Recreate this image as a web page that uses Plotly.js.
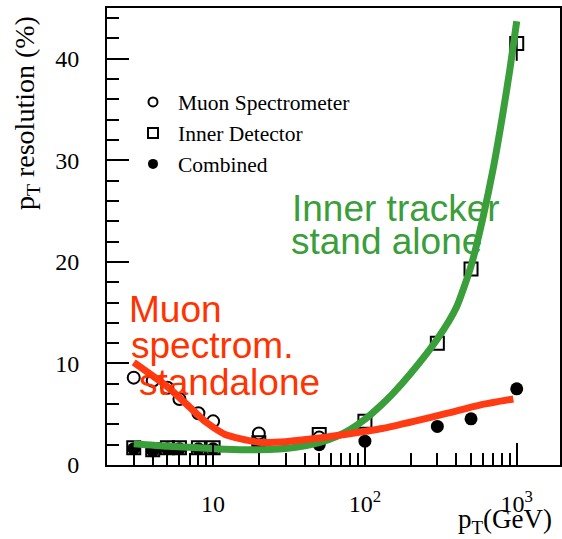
<!DOCTYPE html>
<html>
<head>
<meta charset="utf-8">
<script src="https://cdn.plot.ly/plotly-3.0.1.min.js"></script>
<style>html,body{margin:0;padding:0;background:#fff;}#chart{width:562px;height:539px;}</style>
</head>
<body>
<div id="chart"></div>
<script>
// ---- data ----
const ptMuon  = [3, 4, 5, 6, 8, 10, 20, 50];
const resMuon = [8.6, 8.3, 7.6, 6.5, 5.1, 4.3, 3.1, 2.7];

const ptID  = [3, 4, 5, 6, 8, 10, 20, 50, 100, 300, 500, 1000];
const resID = [1.7, 1.5, 1.7, 1.7, 1.7, 1.7, 2.2, 3.0, 4.3, 12.0, 19.3, 41.5];
const errID = [0, 0, 0, 0, 0, 0, 0, 0, 0, 0, 0, 1.7];

const ptComb  = [3, 4, 5, 6, 8, 10, 20, 50, 100, 300, 500, 1000];
const resComb = [1.6, 1.4, 1.6, 1.6, 1.6, 1.6, 1.9, 2.0, 2.35, 3.8, 4.55, 7.5];

const ptInnerFit  = [3, 5, 8, 12, 20, 35, 50, 65, 80, 100, 130, 150, 200, 300, 400, 500, 600, 700, 800, 900, 1000];
const resInnerFit = [2.1, 1.85, 1.7, 1.55, 1.5, 1.75, 2.2, 2.8, 3.5, 4.5, 6.0, 6.9, 9.0, 12.4, 15.5, 19.6, 24.4, 29.2, 34.1, 38.9, 43.7];

const ptMuonFit  = [3, 5, 7, 9, 12, 15, 20, 30, 50, 85, 130, 210, 350, 570, 950];
const resMuonFit = [10.1, 7.7, 5.7, 4.2, 3.0, 2.6, 2.25, 2.3, 2.65, 3.15, 3.6, 4.3, 5.1, 5.9, 6.5];

const xTickVals = [10, 100, 1000];
const xTickText = ['10', '10<sup>2</sup>', '10<sup>3</sup>'];
const yTickVals = [0, 10, 20, 30, 40];
const legendNames = ['Muon Spectrometer', 'Inner Detector', 'Combined'];

// ---- layout helpers (pixel -> paper) ----
const W = 562, H = 539;
const M = {l: 107, r: 2, t: 8, b: 74};
const pw = W - M.l - M.r, ph = H - M.t - M.b;
const px = x => (x - M.l) / pw;
const py = y => (H - M.b - y) / ph;

const xMinor = [];
for (const d of [1, 10, 100]) for (let k = 2; k <= 9; k++) { if (d * k > 2) xMinor.push(d * k); }

const serif = "'Liberation Serif', 'Times New Roman', Times, serif";
const sans = "'Liberation Sans', Arial, sans-serif";
const green = '#3a9e3a';
const red = '#ff3b14';
const redText = '#ff3300';

const traces = [
  {x: ptComb, y: resComb, type: 'scatter', mode: 'markers', showlegend: false,
   marker: {symbol: 'circle', size: 13, color: 'black'}},
  {x: ptID, y: resID, type: 'scatter', mode: 'markers', showlegend: false,
   error_y: {type: 'data', array: errID, visible: true, color: 'black', thickness: 2, width: 0},
   marker: {symbol: 'square-open', size: 13, color: 'black', line: {width: 2, color: 'black'}}},
  {x: ptMuon, y: resMuon, type: 'scatter', mode: 'markers', showlegend: false,
   marker: {symbol: 'circle-open', size: 12, color: 'black', line: {width: 2, color: 'black'}}},
  {x: ptInnerFit, y: resInnerFit, type: 'scatter', mode: 'lines', showlegend: false,
   line: {color: green, width: 7, shape: 'spline', smoothing: 0.6}},
  {x: ptMuonFit, y: resMuonFit, type: 'scatter', mode: 'lines', showlegend: false,
   line: {color: red, width: 7, shape: 'spline', smoothing: 0.6}},
  // legend entries
  {x: [null], y: [null], type: 'scatter', mode: 'markers', name: legendNames[0],
   marker: {symbol: 'circle-open', size: 9, color: 'black', line: {width: 2, color: 'black'}}},
  {x: [null], y: [null], type: 'scatter', mode: 'markers', name: legendNames[1],
   marker: {symbol: 'square-open', size: 10, color: 'black', line: {width: 2, color: 'black'}}},
  {x: [null], y: [null], type: 'scatter', mode: 'markers', name: legendNames[2],
   marker: {symbol: 'circle', size: 10, color: 'black'}}
];

const annotations = [
  {text: 'p<sub>T</sub> resolution (%)', xref: 'paper', yref: 'paper', x: px(27), y: py(113),
   textangle: -90, showarrow: false, xanchor: 'center', yanchor: 'middle',
   font: {family: serif, size: 28, color: 'black'}},
  {text: 'p<sub>T</sub>(GeV)', xref: 'paper', yref: 'paper', x: px(505), y: py(521),
   showarrow: false, xanchor: 'center', yanchor: 'middle',
   font: {family: serif, size: 27, color: 'black'}},
  {text: 'Inner tracker', xref: 'paper', yref: 'paper', x: px(290), y: py(208),
   showarrow: false, xanchor: 'left', yanchor: 'middle', font: {family: sans, size: 37, color: green}},
  {text: 'stand alone', xref: 'paper', yref: 'paper', x: px(289), y: py(241.5),
   showarrow: false, xanchor: 'left', yanchor: 'middle', font: {family: sans, size: 37, color: green}},
  {text: 'Muon', xref: 'paper', yref: 'paper', x: px(127), y: py(309),
   showarrow: false, xanchor: 'left', yanchor: 'middle', font: {family: sans, size: 37, color: redText}},
  {text: 'spectrom.', xref: 'paper', yref: 'paper', x: px(129), y: py(345),
   showarrow: false, xanchor: 'left', yanchor: 'middle', font: {family: sans, size: 37, color: redText}},
  {text: 'standalone', xref: 'paper', yref: 'paper', x: px(137), y: py(382),
   showarrow: false, xanchor: 'left', yanchor: 'middle', font: {family: sans, size: 37, color: redText}}
];

const layout = {
  width: W, height: H,
  margin: M,
  paper_bgcolor: 'white', plot_bgcolor: 'white',
  showlegend: true,
  legend: {x: px(128), y: py(81.5), xanchor: 'left', yanchor: 'top', bgcolor: 'rgba(0,0,0,0)',
           font: {family: serif, size: 21.5, color: 'black'}, itemsizing: 'trace', itemwidth: 40},
  xaxis: {type: 'log', range: [Math.log10(2), 3.285], showgrid: false, zeroline: false,
          showline: true, linecolor: 'black', linewidth: 2, mirror: true,
          ticks: 'inside', ticklen: 22, tickwidth: 2, tickcolor: 'black',
          tickmode: 'array', tickvals: xTickVals, ticktext: xTickText,
          ticklabelstandoff: 16,
          tickfont: {family: serif, size: 24, color: 'black'},
          minor: {tickmode: 'array', tickvals: xMinor, ticks: 'inside', ticklen: 12, tickwidth: 2, tickcolor: 'black', showgrid: false}},
  yaxis: {range: [0, 45], showgrid: false, zeroline: false,
          showline: true, linecolor: 'black', linewidth: 2, mirror: true,
          ticks: 'inside', ticklen: 22, tickwidth: 2, tickcolor: 'black',
          tickmode: 'array', tickvals: yTickVals,
          ticklabelstandoff: 21,
          tickfont: {family: serif, size: 24, color: 'black'},
          minor: {dtick: 2, tick0: 0, ticks: 'inside', ticklen: 12, tickwidth: 2, tickcolor: 'black', showgrid: false}},
  annotations: annotations
};

Plotly.newPlot('chart', traces, layout, {staticPlot: true, displayModeBar: false});
</script>
</body>
</html>
